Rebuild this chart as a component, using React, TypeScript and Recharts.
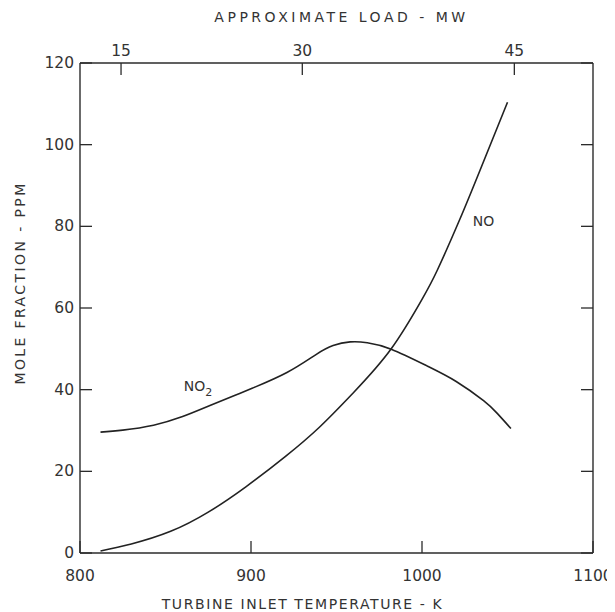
import React from 'react';
import { LineChart, Line, XAxis, YAxis, ReferenceDot } from 'recharts';

// Turbine inlet temperature (K) and mole fraction (ppm)
const noTemps = [812, 830, 853, 875, 897, 920, 940, 960, 982, 1000, 1009, 1022, 1034, 1050];
const noValues = [0.5, 2.2, 5.3, 10, 16.2, 23.6, 30.8, 39.3, 50, 62.1, 69.3, 81.6, 93.8, 110.4];

const no2Temps = [812, 825, 843, 860, 876, 890, 901, 921, 938, 948, 958, 968, 982, 1003, 1020, 1036, 1044, 1052];
const no2Values = [29.6, 30.1, 31.3, 33.4, 36.1, 38.5, 40.4, 44.2, 48.6, 50.8, 51.7, 51.5, 49.9, 45.8, 42, 37.3, 34.2, 30.5];

const tempTicks = [800, 900, 1000, 1100];
const ppmTicks = [0, 20, 40, 60, 80, 100, 120];
// approximate load scale (non-linear): temperatures where load ticks fall
const loadTickTemps = [824, 930, 1054];
const loadTickLabels = ['15', '30', '45'];

// curve label positions (temperature, ppm)
const no2LabelPos = [869, 40.9];
const noLabelPos = [1036, 81.3];

const noData = noTemps.map((t, i) => ({ t, v: noValues[i] }));
const no2Data = no2Temps.map((t, i) => ({ t, v: no2Values[i] }));

const INK = '#2b2b2b';
const FONT = 'DejaVu Sans';
const TICK = 12;

const LeftTick = (p: any) => {
  const { x, y, payload } = p;
  return (
    <g>
      <line x1={x} x2={x + TICK} y1={y} y2={y} stroke={INK} strokeWidth={1.3} />
      <text x={x - 6} y={y} dy={5} textAnchor="end" fontSize={15.5} fontFamily={FONT} fill="#333">
        {payload.value}
      </text>
    </g>
  );
};

const RightTick = (p: any) => {
  const { x, y } = p;
  return <line x1={x - TICK} x2={x} y1={y} y2={y} stroke={INK} strokeWidth={1.3} />;
};

const BottomTick = (p: any) => {
  const { x, y, payload } = p;
  return (
    <g>
      <line x1={x} x2={x} y1={y - TICK} y2={y} stroke={INK} strokeWidth={1.3} />
      <text x={x} y={y + 28} textAnchor="middle" fontSize={15.5} fontFamily={FONT} fill="#333">
        {payload.value}
      </text>
    </g>
  );
};

const TopTick = (p: any) => {
  const { x, y, payload, index } = p;
  return (
    <g>
      <line x1={x} x2={x} y1={y} y2={y + TICK} stroke={INK} strokeWidth={1.3} />
      <text x={x} y={y - 7} textAnchor="middle" fontSize={15.5} fontFamily={FONT} fill="#333">
        {loadTickLabels[index] ?? payload.value}
      </text>
    </g>
  );
};

const titleStyle = { fontSize: 14, fontFamily: FONT, fill: '#333', letterSpacing: 1.6 };

const BottomTitle = (p: any) => {
  const vb = p.viewBox;
  return (
    <text x={vb.x + vb.width / 2 - 34} y={vb.y + vb.height - 3} textAnchor="middle" {...titleStyle}>
      TURBINE INLET TEMPERATURE - K
    </text>
  );
};

const TopTitle = (p: any) => {
  const vb = p.viewBox;
  return (
    <text x={vb.x + vb.width / 2 + 5} y={vb.y + 14} textAnchor="middle" {...titleStyle} letterSpacing={3.5}>
      APPROXIMATE LOAD - MW
    </text>
  );
};

const LeftTitle = (p: any) => {
  const vb = p.viewBox;
  const cx = vb.x + 17;
  const cy = vb.y + vb.height / 2 - 25;
  return (
    <text x={cx} y={cy} textAnchor="middle" transform={`rotate(-90 ${cx} ${cy})`} {...titleStyle} letterSpacing={2.4}>
      MOLE FRACTION - PPM
    </text>
  );
};

const No2Label = (p: any) => {
  const vb = p.viewBox;
  const x = vb.x + (vb.width || 0) / 2;
  const y = vb.y + (vb.height || 0) / 2;
  return (
    <text x={x} y={y} textAnchor="middle" dy={5} fontSize={14} fontFamily={FONT} fill="#333">
      NO
      <tspan fontSize={11} dy={5}>2</tspan>
    </text>
  );
};

const NoLabel = (p: any) => {
  const vb = p.viewBox;
  const x = vb.x + (vb.width || 0) / 2;
  const y = vb.y + (vb.height || 0) / 2;
  return (
    <text x={x} y={y} textAnchor="middle" dy={5} fontSize={14} fontFamily={FONT} fill="#333">
      NO
    </text>
  );
};

export default function App() {
  return (
    <LineChart width={607} height={604} margin={{ top: 0, right: 0, bottom: 0, left: 0 }}>
      <XAxis
        xAxisId="bottom"
        dataKey="t"
        type="number"
        domain={[800, 1100]}
        ticks={tempTicks}
        interval={0}
        allowDataOverflow
        orientation="bottom"
        height={59}
        tickSize={0}
        tickMargin={0}
        tickLine={false}
        axisLine={{ stroke: INK, strokeWidth: 1.4 }}
        tick={<BottomTick />}
        label={<BottomTitle />}
      />
      <XAxis
        xAxisId="top"
        dataKey="t"
        type="number"
        domain={[800, 1100]}
        ticks={loadTickTemps}
        interval={0}
        allowDataOverflow
        orientation="top"
        height={55}
        tickSize={0}
        tickMargin={0}
        tickLine={false}
        axisLine={{ stroke: INK, strokeWidth: 1.4 }}
        tick={<TopTick />}
        label={<TopTitle />}
      />
      <YAxis
        yAxisId="left"
        type="number"
        domain={[0, 120]}
        ticks={ppmTicks}
        interval={0}
        allowDataOverflow
        width={72}
        tickSize={0}
        tickMargin={0}
        tickLine={false}
        axisLine={{ stroke: INK, strokeWidth: 1.4 }}
        tick={<LeftTick />}
        label={<LeftTitle />}
      />
      <YAxis
        yAxisId="right"
        orientation="right"
        type="number"
        domain={[0, 120]}
        ticks={ppmTicks}
        interval={0}
        allowDataOverflow
        width={22}
        tickSize={0}
        tickMargin={0}
        tickLine={false}
        axisLine={{ stroke: INK, strokeWidth: 1.4 }}
        tick={<RightTick />}
      />
      <Line
        xAxisId="bottom"
        yAxisId="left"
        data={noData}
        dataKey="v"
        type="natural"
        stroke="#222"
        strokeWidth={1.6}
        dot={false}
        isAnimationActive={false}
      />
      <Line
        xAxisId="bottom"
        yAxisId="left"
        data={no2Data}
        dataKey="v"
        type="natural"
        stroke="#222"
        strokeWidth={1.6}
        dot={false}
        isAnimationActive={false}
      />
      <ReferenceDot
        xAxisId="bottom"
        yAxisId="left"
        x={no2LabelPos[0]}
        y={no2LabelPos[1]}
        r={0}
        stroke="none"
        fill="none"
        label={<No2Label />}
      />
      <ReferenceDot
        xAxisId="bottom"
        yAxisId="left"
        x={noLabelPos[0]}
        y={noLabelPos[1]}
        r={0}
        stroke="none"
        fill="none"
        label={<NoLabel />}
      />
    </LineChart>
  );
}
